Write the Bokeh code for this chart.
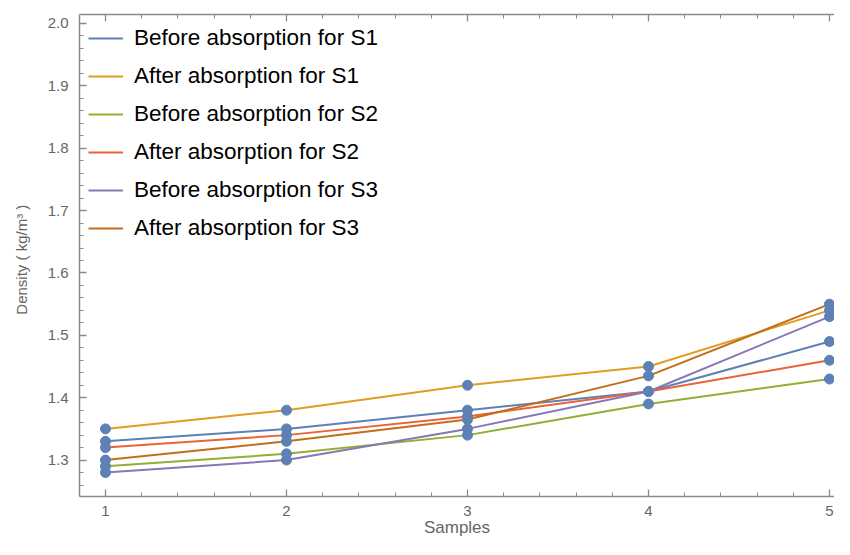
from bokeh.plotting import figure
from bokeh.models import (Range1d, LinearAxis, Legend, LegendItem, SingleIntervalTicker,
                          PrintfTickFormatter, CustomJSTickFormatter)
from bokeh.embed import file_html
from bokeh.resources import INLINE

samples = [1, 2, 3, 4, 5]
before_s1 = [1.33, 1.35, 1.38, 1.41, 1.49]
after_s1 = [1.35, 1.38, 1.42, 1.45, 1.54]
before_s2 = [1.29, 1.31, 1.34, 1.39, 1.43]
after_s2 = [1.32, 1.34, 1.37, 1.41, 1.46]
before_s3 = [1.28, 1.30, 1.35, 1.41, 1.53]
after_s3 = [1.30, 1.33, 1.365, 1.435, 1.55]

series_names = [
    "Before absorption for S1",
    "After absorption for S1",
    "Before absorption for S2",
    "After absorption for S2",
    "Before absorption for S3",
    "After absorption for S3",
]
series_values = [before_s1, after_s1, before_s2, after_s2, before_s3, after_s3]
colors = ["#5E81B5", "#E19C24", "#8FB032", "#EB6235", "#8778B3", "#C56E1A"]
point_color = "#5E81B5"

FONT = "Liberation Sans"
AXIS_COLOR = "#8a8a8a"
LABEL_COLOR = "#666666"

p = figure(
    width=834, height=539,
    x_range=Range1d(0.8564, 5.0276),
    y_range=Range1d(1.2416, 2.0144),
    output_backend="svg", toolbar_location=None,
    min_border_left=79, min_border_right=0, min_border_top=14, min_border_bottom=42,
)
p.outline_line_color = None
p.xgrid.grid_line_color = None
p.ygrid.grid_line_color = None
p.background_fill_color = "white"
p.border_fill_color = "white"

bottom = p.below[0]
left = p.left[0]
bottom.ticker = SingleIntervalTicker(interval=1, num_minor_ticks=5)
left.ticker = SingleIntervalTicker(interval=0.1, num_minor_ticks=5)
left.formatter = PrintfTickFormatter(format="%.1f")
bottom.axis_label = "Samples"
left.axis_label = "Density (  kg/m³  )"

top = LinearAxis(ticker=SingleIntervalTicker(interval=1, num_minor_ticks=5),
                 formatter=CustomJSTickFormatter(code="return ''"))
p.add_layout(top, "above")
top.major_label_text_font_size = "1px"
top.major_label_standoff = 0

for ax in [bottom, left, top]:
    ax.axis_line_color = AXIS_COLOR
    ax.axis_line_width = 1.5
    ax.major_tick_line_color = AXIS_COLOR
    ax.minor_tick_line_color = AXIS_COLOR
    ax.major_tick_line_width = 1.3
    ax.minor_tick_line_width = 1
    ax.major_tick_in = 7
    ax.major_tick_out = 0
    ax.minor_tick_in = 4
    ax.minor_tick_out = 0
    ax.major_label_text_font = FONT
    ax.major_label_text_color = LABEL_COLOR
    ax.axis_label_text_font = FONT
    ax.axis_label_text_color = LABEL_COLOR
    ax.axis_label_text_font_style = "normal"

bottom.major_label_text_font_size = "15px"
left.major_label_text_font_size = "15px"
bottom.major_label_standoff = 9
left.major_label_standoff = 11
bottom.axis_label_text_font_size = "17px"
bottom.axis_label_standoff = -1
left.axis_label_text_font_size = "15px"
left.axis_label_standoff = 15

items = []
for name, vals, c in zip(series_names, series_values, colors):
    r = p.line(samples, vals, line_color=c, line_width=2)
    items.append(LegendItem(label=name, renderers=[r]))

for vals in series_values:
    p.scatter(samples, vals, size=10, fill_color=point_color, line_color=point_color)

legend = Legend(
    items=items, location="top_left",
    label_text_font=FONT, label_text_font_size="22.5px", label_text_color="black",
    glyph_width=35, glyph_height=30, label_height=30, spacing=8,
    padding=9, margin=9, label_standoff=11,
    border_line_color=None, background_fill_alpha=0,
)
p.add_layout(legend)

open("out.html", "w").write(file_html(p, INLINE))
